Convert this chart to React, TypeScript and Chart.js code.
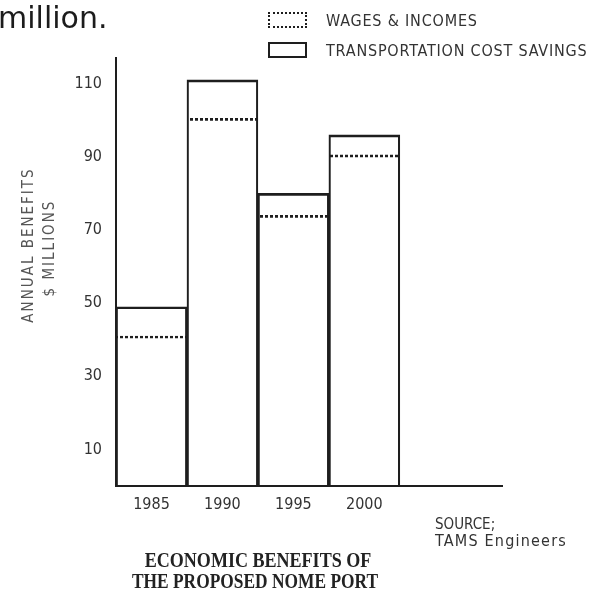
import React, { useEffect, useRef } from "react";
import { Chart, registerables } from "chart.js";

Chart.register(...registerables);

// ---- data ----
const years = ["1985", "1990", "1995", "2000"];
const wagesIncomes = [41, 100.5, 74, 90.5];
const transportSavings = [8, 10.5, 6, 5.5];
const yTickValues = [10, 30, 50, 70, 90, 110];
const legendLabels = ["WAGES & INCOMES", "TRANSPORTATION COST SAVINGS"];

const COND = "'DejaVu Sans Condensed','Liberation Sans Narrow','Roboto Condensed',Roboto,sans-serif";
const INK = "#1e1e1e";
const TXT = "#333";

export default function App() {
  const ref = useRef<HTMLCanvasElement>(null);

  useEffect(() => {
    const canvas = ref.current;
    if (!canvas) return;
    const ctx = canvas.getContext("2d")!;
    const pc = document.createElement("canvas");
    pc.width = 5;
    pc.height = 2;
    const pctx = pc.getContext("2d")!;
    pctx.fillStyle = INK;
    pctx.fillRect(0, 0, 3, 2);
    const dotted = ctx.createPattern(pc, "repeat")!;

    const xs = years.map((_, i) => i + 0.5);
    const totals = wagesIncomes.map((w, i) => w + transportSavings[i]);

    Chart.defaults.font.family = COND;

    const chart = new Chart(ctx, {
      type: "bar",
      data: {
        datasets: [
          {
            label: legendLabels[0],
            data: xs.map((x, i) => ({ x, y: wagesIncomes[i] })),
            stack: "s",
            backgroundColor: "rgba(0,0,0,0)",
            borderColor: dotted as any,
            borderWidth: { top: 2, left: 0, right: 0, bottom: 0 },
            borderSkipped: false,
            categoryPercentage: 1,
            barPercentage: 1,
          } as any,
          {
            label: legendLabels[1],
            data: xs.map((x, i) => ({ x, y: transportSavings[i] })),
            stack: "s",
            backgroundColor: "rgba(0,0,0,0)",
            borderWidth: 0,
            categoryPercentage: 1,
            barPercentage: 1,
          } as any,
          {
            label: "outline",
            data: xs.map((x, i) => ({ x, y: totals[i] })),
            stack: "o",
            grouped: false,
            backgroundColor: "rgba(0,0,0,0)",
            borderColor: INK,
            borderWidth: { top: 2, left: 1.5, right: 1.5, bottom: 0 },
            borderSkipped: false,
            categoryPercentage: 1,
            barPercentage: 1,
          } as any,
        ],
      },
      options: {
        responsive: false,
        animation: false,
        layout: { padding: { left: 0, right: 93, top: 58, bottom: 74 } },
        plugins: { legend: { display: false }, tooltip: { enabled: false } },
        scales: {
          x: {
            type: "linear",
            min: 0,
            max: 5.44,
            offset: false,
            grid: { display: false },
            border: { display: true, color: INK, width: 2 },
            ticks: {
              padding: 1,
              color: TXT,
              font: { size: 16 },
              maxRotation: 0,
              autoSkip: false,
              callback: (v: any) => {
                const i = Math.round(Number(v) - 0.5);
                return years[i] ?? "";
              },
            },
            afterBuildTicks: (s: any) => {
              s.ticks = xs.map((v) => ({ value: v }));
            },
            afterFit: (s: any) => {
              s.height = 30;
            },
          },
          y: {
            stacked: true,
            min: 0,
            max: 117,
            grid: { display: false },
            border: { display: true, color: INK, width: 2 },
            ticks: { padding: 6, color: TXT, font: { size: 16 } },
            afterBuildTicks: (s: any) => {
              s.ticks = yTickValues.map((v) => ({ value: v }));
            },
            afterFit: (s: any) => {
              s.width = 116;
            },
          },
        },
      } as any,
    });
    return () => chart.destroy();
  }, []);

  const abs = (o: React.CSSProperties): React.CSSProperties => ({ position: "absolute", whiteSpace: "nowrap", ...o });
  const legendText: React.CSSProperties = { fontFamily: COND, fontSize: 16, letterSpacing: 0.8, color: TXT };
  const axisTitle: React.CSSProperties = { fontFamily: COND, fontSize: 15, letterSpacing: 2, color: "#555" };
  const titleText: React.CSSProperties = { fontFamily: "'Liberation Serif',serif", fontSize: 22, fontWeight: "bold", color: "#222" };

  return (
    <div style={{ position: "fixed", left: 0, top: 0, width: 595, height: 590, background: "#fff", overflow: "hidden" }}>
      <canvas ref={ref} width={595} height={590} style={{ position: "absolute", left: 0, top: 0 }} />
      <div style={abs({ left: -2, top: 0, fontFamily: "'DejaVu Sans',sans-serif", fontSize: 30, color: "#1c1c1c" })}>million.</div>

      <div style={abs({ left: 268, top: 12, width: 35, height: 12, border: `2px dotted ${INK}` })} />
      <div style={abs({ left: 268, top: 42, width: 35, height: 12, border: `2px solid ${INK}` })} />
      <div style={abs({ left: 326, top: 20, transform: "translateY(-50%)", ...legendText })}>{legendLabels[0]}</div>
      <div style={abs({ left: 326, top: 50, transform: "translateY(-50%)", ...legendText })}>{legendLabels[1]}</div>

      <div style={abs({ left: 28, top: 245, transform: "translate(-50%,-50%) rotate(-90deg)", ...axisTitle })}>ANNUAL BENEFITS</div>
      <div style={abs({ left: 49, top: 248, transform: "translate(-50%,-50%) rotate(-90deg)", ...axisTitle })}>$ MILLIONS</div>

      <div style={abs({ left: 435, top: 524, transform: "translateY(-50%)", fontFamily: COND, fontSize: 15, color: TXT })}>SOURCE;</div>
      <div style={abs({ left: 435, top: 540, transform: "translateY(-50%)", fontFamily: COND, fontSize: 16, letterSpacing: 1.2, color: TXT })}>TAMS Engineers</div>

      <div style={abs({ left: 258, top: 560, transform: "translate(-50%,-50%) scaleX(0.82)", ...titleText })}>ECONOMIC BENEFITS OF</div>
      <div style={abs({ left: 255, top: 581, transform: "translate(-50%,-50%) scaleX(0.79)", ...titleText })}>THE PROPOSED NOME PORT</div>
    </div>
  );
}
